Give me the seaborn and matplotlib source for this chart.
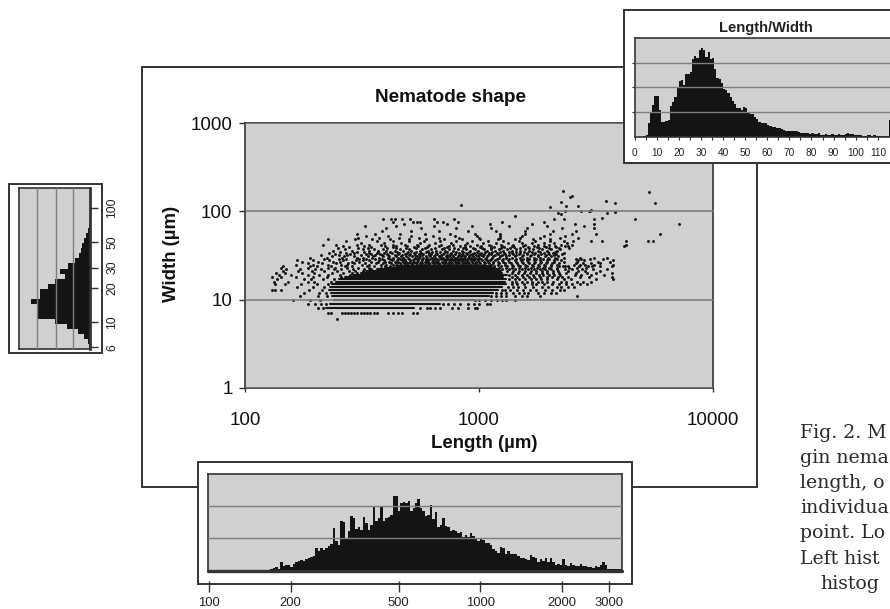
"""Nematode shape scatter with its three marginal histograms."""
import matplotlib
matplotlib.use("Agg")
import matplotlib.pyplot as plt
import numpy as np
import pandas as pd
import seaborn as sns
from matplotlib.patches import Rectangle

W, H = 890, 609
INK = "#141414"
EDGE = "#333333"
PANEL = "#d0d0d0"
GRID = "#7e7e7e"

# widths are recorded in whole microns, so the saturated part of the cloud reads as rows
BAND_WIDTHS = [8, 9, 10, 11, 12, 13, 14, 15, 16, 17, 18, 19, 20, 21, 22, 23, 24]
BAND_STARTS = [222, 231, 240, 235, 232, 228, 230, 236, 244, 252, 268, 290, 312, 330, 365, 395, 440]
BAND_ENDS = [530, 680, 950, 1100, 1150, 1200, 1250, 1300, 1290, 1310, 1270, 1320, 1260, 1240, 1210, 1170, 1120]

ROW_WIDTHS = [6, 7, 8, 9, 10, 11, 12, 13, 14, 15, 16, 17, 18, 19, 20, 21, 22, 23, 24, 25, 26, 27, 28, 29, 30,
              31, 32, 33, 34, 35, 36, 37, 38, 39, 40, 42, 44, 46, 48, 50, 53, 56, 60, 64, 68, 72, 76, 81]
ROW_LENGTHS = [
    [247],
    [226, 233, 260, 268, 276, 285, 293, 302, 312, 322, 332, 343, 355, 366, 408, 429, 450, 469, 522, 543],
    [205, 215, 560, 598, 620, 650, 680, 765, 810, 900, 960, 980],
    [185, 200, 212, 222, 700, 740, 780, 830, 900, 950, 1000, 1080, 1110],
    [160, 190, 210, 960, 1000, 1060, 1120, 1190, 1250, 1300, 1430],
    [172, 205, 225, 1130, 1180, 1240, 1300, 1420, 1520, 1610, 1830, 2620],
    [178, 207, 221, 1180, 1240, 1310, 1400, 1480, 1560, 1620, 1790, 1900, 2040, 2130],
    [131, 135, 142, 187, 213, 1250, 1290, 1360, 1450, 1540, 1650, 1760, 1920, 2050, 2220, 2310],
    [166, 195, 218, 1330, 1400, 1470, 1580, 1700, 1850, 1970, 2150, 2250, 2400, 2550],
    [135, 148, 173, 203, 226, 1380, 1450, 1550, 1680, 1760, 1900, 2050, 2200, 2350, 2500, 2700, 2900],
    [133, 152, 186, 198, 232, 1380, 1440, 1520, 1600, 1690, 1780, 1860, 1950, 2080, 2240, 2360, 2620, 2780, 3000],
    [137, 179, 192, 216, 240, 1340, 1420, 1480, 1570, 1660, 1750, 1840, 1960, 2150, 2300, 2480, 3150, 3720],
    [131, 143, 165, 196, 224, 258, 1380, 1460, 1540, 1630, 1720, 1820, 1950, 2060, 2180, 2260, 2400, 2700, 2950, 3710],
    [140, 158, 186, 207, 226, 254, 281, 1350, 1430, 1520, 1610, 1700, 1800, 1880, 2000, 2100, 2220, 2560, 2720, 3000, 3430],
    [136, 148, 176, 198, 236, 262, 287, 301, 1380, 1470, 1560, 1650, 1750, 1850, 1960, 2080, 2200, 2350, 2600, 2900, 3170, 3700],
    [145, 168, 194, 218, 247, 278, 294, 319, 1320, 1400, 1480, 1570, 1660, 1750, 1850, 1960, 2070, 2180, 2400, 2640, 2850, 3280],
    [150, 172, 200, 212, 240, 256, 290, 322, 347, 1260, 1340, 1430, 1520, 1620, 1720, 1820, 1920, 2040, 2160, 2320, 2500, 2760, 3060, 3540],
    [142, 186, 226, 243, 274, 305, 338, 381, 1220, 1300, 1390, 1480, 1570, 1670, 1770, 1880, 2000, 2150, 2420, 2620, 2860],
    [146, 190, 204, 234, 268, 288, 332, 356, 397, 418, 1160, 1240, 1320, 1400, 1500, 1600, 1700, 1800, 1920, 2040, 2200, 2280, 2340, 2400, 2680, 2920, 3050, 3300, 3700],
    [165, 196, 226, 256, 274, 316, 340, 381, 402, 431, 447, 462, 478, 493, 511, 524, 548, 566, 583, 604, 619, 641, 668, 683, 712, 734, 761, 782, 808, 839, 860, 893, 921, 958, 994, 1040, 1120, 1200, 1290, 1380, 1470, 1570, 1680, 1790, 1900, 2030, 2150, 2550, 2700, 2850, 3100, 3740],
    [186, 214, 244, 276, 292, 326, 362, 388, 421, 442, 458, 481, 499, 517, 536, 557, 572, 596, 611, 636, 652, 677, 701, 726, 748, 770, 797, 823, 851, 882, 908, 947, 973, 1012, 1058, 1101, 1152, 1220, 1290, 1370, 1450, 1540, 1630, 1720, 1830, 1940, 2060, 2190, 2600, 2780, 3000, 3300],
    [175, 206, 238, 254, 288, 306, 344, 371, 396, 413, 437, 451, 472, 488, 509, 528, 541, 563, 589, 607, 628, 644, 662, 695, 715, 742, 759, 788, 814, 842, 869, 901, 934, 968, 1004, 1047, 1093, 1146, 1200, 1270, 1350, 1440, 1530, 1620, 1730, 1840, 1960, 2090, 2310, 2620, 3220, 3640],
    [167, 196, 228, 262, 298, 318, 338, 374, 392, 424, 445, 467, 483, 505, 521, 547, 568, 591, 608, 633, 656, 671, 706, 722, 753, 777, 802, 829, 858, 886, 923, 951, 986, 1031, 1077, 1118, 1170, 1250, 1330, 1420, 1510, 1610, 1720, 1830, 1950, 2100, 2230, 2650, 2810, 3740],
    [218, 252, 270, 308, 328, 358, 384, 416, 431, 461, 478, 502, 526, 544, 571, 594, 615, 639, 664, 687, 711, 738, 766, 791, 818, 846, 875, 912, 941, 979, 1021, 1063, 1120, 1190, 1270, 1350, 1440, 1540, 1640, 1750, 1870, 2000, 2150, 2590, 2740, 2980, 3400],
    [190, 224, 260, 300, 320, 348, 372, 407, 429, 452, 474, 496, 533, 553, 578, 601, 628, 649, 681, 699, 732, 756, 787, 804, 837, 866, 897, 928, 966, 1004, 1070, 1140, 1220, 1300, 1390, 1490, 1600, 1710, 1830, 1970, 2120, 2300, 2700, 3100, 3540],
    [236, 264, 291, 336, 351, 389, 412, 441, 466, 488, 515, 542, 562, 591, 618, 642, 672, 691, 724, 745, 778, 812, 835, 871, 905, 947, 992, 1036, 1086, 1150, 1230, 1310, 1420, 1530, 1650, 1780, 1910, 2030, 2180],
    [212, 252, 272, 314, 360, 384, 410, 438, 468, 500, 534, 570, 610, 650, 690, 731, 769, 823, 858, 912, 968, 1020, 1090, 1170, 1250, 1340, 1440, 1540, 1660, 1790, 1930, 2090],
    [243, 282, 328, 346, 377, 403, 452, 481, 509, 552, 578, 626, 661, 703, 752, 786, 843, 889, 937, 998, 1054, 1122, 1207, 1295, 1402, 1487, 1596, 1710, 1846, 1987, 2130, 2260],
    [228, 270, 292, 340, 366, 394, 424, 456, 490, 526, 566, 610, 656, 706, 760, 820, 880, 950, 1020, 1100, 1190, 1280, 1380, 1490, 1610, 1740, 1900, 2080, 2300],
    [255, 302, 323, 371, 417, 447, 496, 538, 593, 631, 682, 729, 798, 851, 905, 979, 1065, 1142, 1233, 1338, 1446, 1562, 1688, 1826, 1972, 2120],
    [238, 286, 340, 370, 402, 436, 474, 514, 558, 606, 658, 714, 776, 842, 914, 992, 1080, 1170, 1270, 1380, 1500, 1630, 1780, 1960, 2150],
    [268, 319, 356, 389, 461, 503, 573, 622, 693, 747, 817, 876, 961, 1046, 1121, 1216, 1312, 1433, 1567, 1702, 1859, 2038, 2210],
    [250, 304, 334, 404, 444, 488, 536, 588, 646, 710, 780, 856, 940, 1030, 1130, 1240, 1360, 1490, 1640, 1800, 2000, 2200, 2420],
    [279, 347, 427, 529, 602, 733, 869, 1007, 1163, 1281, 1417, 1614, 1773, 1932, 2131],
    [262, 322, 398, 442, 492, 546, 606, 672, 746, 828, 918, 1020, 1130, 1250, 1390, 1540, 1710, 1900, 2110, 2340, 2400, 4160],
    [215, 244, 300, 338, 380, 428, 482, 542, 610, 686, 772, 870, 980, 1100, 1240, 1400, 1580, 1780, 2000, 2250, 2500, 4250],
    [312, 392, 463, 561, 649, 758, 892, 1036, 1178, 1326, 1522, 1691, 1888, 2093, 2388],
    [270, 368, 430, 500, 584, 682, 796, 930, 1090, 1270, 1480, 1730, 2020, 2300, 2520, 3000, 3350, 4230, 5300, 5560],
    [226, 295, 350, 418, 500, 596, 710, 846, 1010, 1200, 1430, 1700, 2020],
    [305, 372, 454, 554, 676, 824, 1004, 1226, 1495, 1820, 2220, 2650],
    [330, 410, 510, 636, 790, 985, 1225, 1525, 1900, 2340],
    [300, 360, 460, 590, 755, 965, 1235, 1580, 2020, 2500, 3150, 5950],
    [385, 510, 675, 895, 1185, 1570, 2080, 2600],
    [400, 565, 800, 1130, 1600, 2260, 3100],
    [325, 440, 640, 930, 1350, 1960, 2800],
    [480, 730, 1110, 1690, 2560, 3100, 7130],
    [430, 520, 545, 560, 660, 700, 810, 1260, 1900],
    [388, 420, 437, 467, 505, 640, 780, 2100, 2300, 3100, 4640],
]
# the sparse points above 85 um, read one by one
TOP_LENGTHS = [835, 1425, 2015, 2180, 2230, 2250, 2279, 2330, 2350, 2450, 2500, 2640, 2720, 2960, 2980, 3000, 3350, 3500, 3530, 3800, 3820, 5320, 5650]
TOP_WIDTHS = [117, 89, 113, 95, 93, 127, 172, 101, 114, 146, 150, 114, 101, 100, 101, 103, 84, 130, 97, 123, 98, 165, 123]

# length histogram (bottom), one value per bin
LENGTH_COUNTS = [0, 0, 0, 0, 0, 0, 0, 0, 0, 0, 0, 0, 0, 1, 1, 0, 1, 1, 1, 1, 1, 1, 0, 1, 1, 2, 3, 4, 2, 9, 5, 6, 6, 4, 7, 9,
                 10, 11, 10, 12, 13, 14, 15, 23, 20, 23, 21, 23, 25, 27, 43, 30, 26, 50, 49, 33, 40, 55, 53, 42, 44, 41,
                 54, 48, 41, 46, 64, 50, 53, 64, 50, 53, 54, 56, 75, 75, 60, 68, 69, 68, 70, 60, 63, 68, 72, 63, 60, 55,
                 56, 66, 52, 59, 44, 46, 53, 45, 44, 40, 41, 40, 38, 39, 34, 36, 34, 38, 35, 32, 30, 33, 31, 28, 28, 26,
                 22, 20, 18, 24, 23, 17, 20, 17, 17, 17, 15, 13, 13, 12, 11, 16, 14, 13, 9, 12, 10, 13, 9, 13, 9, 6, 7, 6,
                 12, 6, 5, 8, 6, 5, 5, 7, 5, 5, 4, 4, 3, 5, 4, 6, 9, 6, 2, 2, 2, 2, 2, 2]
LENGTH_TICKS = [100, 200, 500, 1000, 2000, 3000]

# length/width histogram (top right), one value per unit bin from 0 to 115
RATIO_COUNTS = [0, 0, 0, 0, 1, 2, 14, 24, 32, 41, 41, 27, 15, 15, 16, 17, 31, 35, 40, 50, 56, 57, 52, 63, 63, 65, 78, 81,
                79, 87, 89, 87, 80, 85, 78, 79, 68, 59, 58, 54, 48, 47, 44, 40, 36, 33, 29, 29, 27, 30, 29, 24, 23, 23,
                20, 18, 15, 14, 14, 14, 12, 11, 10, 10, 9, 9, 8, 7, 6, 6, 6, 6, 6, 6, 5, 4, 4, 4, 4, 3, 4, 3, 3, 4, 2, 2,
                3, 2, 2, 3, 2, 2, 3, 2, 2, 3, 4, 3, 3, 2, 2, 2, 2, 1, 1, 2, 2, 1, 2, 1, 1, 1, 1, 1, 1, 17]
RATIO_TICKS = [0, 10, 20, 30, 40, 50, 60, 70, 80, 90, 100, 110]

# width histogram (left), bins from the narrow end upwards
WIDTH_COUNTS = [1, 2, 6, 12, 23, 35, 53, 53, 53, 59, 50, 50, 42, 35, 25, 30, 22, 15, 11, 9, 8, 6, 4, 2, 1, 0, 0, 0, 0, 0, 0, 0]
WIDTH_TICKS = [6, 10, 20, 30, 50, 100]

CAPTION = ["Fig. 2. M", "gin nema", "length, o", "individua", "point. Lo", "Left hist", "histog"]


def px_axes(fig, x0, y0, x1, y1, zorder):
    ax = fig.add_axes([x0 / W, 1 - y1 / H, (x1 - x0) / W, (y1 - y0) / H], zorder=zorder)
    ax.set_facecolor(PANEL)
    for spine in ax.spines.values():
        spine.set_color(EDGE)
        spine.set_linewidth(1.2)
    return ax


def px_frame(fig, x0, y0, x1, y1, zorder):
    fig.add_artist(Rectangle((x0 / W, 1 - y1 / H), (x1 - x0) / W, (y1 - y0) / H, transform=fig.transFigure,
                             facecolor="white", edgecolor=EDGE, linewidth=1.4, zorder=zorder))


def px_text(fig, x, y, text, **kwargs):
    fig.text(x / W, 1 - y / H, text, **kwargs)


def log_bins(counts, low, high):
    edges = np.geomspace(low, high, len(counts) + 1)
    centers = np.sqrt(edges[:-1] * edges[1:])
    return centers, (np.log10(low), np.log10(high))


def draw_main(fig):
    ax = px_axes(fig, 245, 123, 713, 388, 1)
    ax.set_xscale("log")
    ax.set_yscale("log")
    bands = pd.DataFrame({
        "length": BAND_STARTS + BAND_ENDS,
        "width": BAND_WIDTHS + BAND_WIDTHS,
        "row": list(range(len(BAND_WIDTHS))) * 2,
    })
    sns.lineplot(data=bands, x="length", y="width", units="row", estimator=None, color=INK, linewidth=1.5, ax=ax, legend=False)
    lengths = [v for row in ROW_LENGTHS for v in row] + TOP_LENGTHS
    widths = [w for w, row in zip(ROW_WIDTHS, ROW_LENGTHS) for _ in row] + TOP_WIDTHS
    sns.scatterplot(x=lengths, y=widths, color=INK, s=4.5, linewidth=0, ax=ax, legend=False)
    ax.set_xlim(100, 10000)
    ax.set_ylim(1, 1000)
    ax.set_xticks([100, 1000, 10000], ["100", "1000", "10000"])
    ax.set_yticks([1, 10, 100, 1000], ["1", "10", "100", "1000"])
    ax.minorticks_off()
    ax.tick_params(axis="x", bottom=True, length=3, width=1, color=EDGE, pad=14, labelsize=13.5, labelcolor="#111111")
    ax.tick_params(axis="y", left=True, length=4, width=1, color=EDGE, pad=5, labelsize=13.5, labelcolor="#111111")
    ax.set_axisbelow(False)
    ax.yaxis.grid(True, color=GRID, linewidth=1.2)
    ax.xaxis.grid(False)
    ax.set_xlabel("")
    ax.set_ylabel("")


def draw_bottom(fig):
    ax = px_axes(fig, 208, 474, 622, 571, 3)
    centers, binrange = log_bins(LENGTH_COUNTS, 99, 3340)
    sns.histplot(x=centers, weights=LENGTH_COUNTS, bins=len(LENGTH_COUNTS), binrange=binrange, log_scale=True,
                 element="step", color=INK, alpha=1, linewidth=0, ax=ax)
    ax.set_xlim(99, 3340)
    ax.set_ylim(0, 97)
    ax.axhline(0, color=EDGE, linewidth=2.4, clip_on=False, zorder=4)
    ax.spines["bottom"].set_position(("outward", 7.2))
    ax.spines["bottom"].set_visible(False)
    ax.set_xticks(LENGTH_TICKS, [str(v) for v in LENGTH_TICKS])
    ax.minorticks_off()
    ax.set_yticks([33, 65], ["", ""])
    ax.tick_params(axis="x", bottom=True, length=8, width=1, color=EDGE, pad=3.5, labelsize=9.4, labelcolor="#222222")
    ax.tick_params(axis="y", length=0)
    ax.yaxis.grid(True, color=GRID, linewidth=1)
    ax.xaxis.grid(False)
    ax.set_axisbelow(False)
    ax.set_xlabel("")
    ax.set_ylabel("")


def draw_left(fig):
    ax = px_axes(fig, 19, 188, 90, 349, 3)
    centers, binrange = log_bins(WIDTH_COUNTS, 5.8, 150)
    sns.histplot(y=centers, weights=WIDTH_COUNTS, bins=len(WIDTH_COUNTS), binrange=binrange, log_scale=True,
                 element="step", color=INK, alpha=1, linewidth=0, ax=ax)
    ax.set_xlim(71, 0)
    ax.set_ylim(5.8, 150)
    ax.yaxis.tick_right()
    ax.set_yticks(WIDTH_TICKS, [str(v) for v in WIDTH_TICKS])
    ax.minorticks_off()
    ax.set_xticks([17, 34, 53], ["", "", ""])
    ax.tick_params(axis="y", which="both", right=True, length=5.8, width=1, color=EDGE, pad=6, labelsize=8.7,
                   labelrotation=90, labelcolor="#222222")
    for label in ax.get_yticklabels():
        label.set_va("center")
    ax.tick_params(axis="x", length=0)
    ax.xaxis.grid(True, color=GRID, linewidth=1)
    ax.yaxis.grid(False)
    ax.set_axisbelow(False)
    ax.spines["right"].set_linewidth(2)
    ax.set_xlabel("")
    ax.set_ylabel("")


def draw_top(fig):
    ax = px_axes(fig, 634.5, 38, 890, 137, 5)
    n_bins = len(RATIO_COUNTS)
    sns.histplot(x=np.arange(n_bins) + 0.5, weights=RATIO_COUNTS, bins=n_bins, binrange=(0, n_bins),
                 element="step", color=INK, alpha=1, linewidth=0, ax=ax)
    ax.set_xlim(0, 115.5)
    ax.set_ylim(0, 99)
    ax.spines["right"].set_visible(False)
    ax.set_xticks(RATIO_TICKS, [str(v) for v in RATIO_TICKS])
    ax.set_xticks(np.arange(5, 115, 10), minor=True)
    ax.set_yticks([25, 50, 74], ["", "", ""])
    ax.tick_params(axis="x", which="both", bottom=True, length=2.2, width=0.8, color=EDGE, pad=6, labelsize=7.3, labelcolor="#222222")
    ax.tick_params(axis="y", left=True, length=2, width=0.8, color=EDGE)
    ax.yaxis.grid(True, color=GRID, linewidth=1)
    ax.xaxis.grid(False)
    ax.set_axisbelow(False)
    ax.set_xlabel("")
    ax.set_ylabel("")


def main():
    sns.set_theme(style="white")
    plt.rcParams["font.family"] = ["Liberation Sans", "DejaVu Sans"]
    fig = plt.figure(figsize=(W / 100, H / 100), dpi=100, facecolor="white")

    px_frame(fig, 142, 67, 757, 487, -1)
    draw_main(fig)
    px_frame(fig, 198, 462, 632, 584, 2)
    draw_bottom(fig)
    px_frame(fig, 9, 184, 102, 353, 2)
    draw_left(fig)
    px_frame(fig, 624, 10, 900, 163, 4)
    draw_top(fig)

    px_text(fig, 450.5, 97, "Nematode shape", ha="center", va="center", fontsize=13.6, weight="bold", color="#111111", zorder=6)
    px_text(fig, 484.5, 443, "Length (µm)", ha="center", va="center", fontsize=13.4, weight="bold", color="#111111", zorder=6)
    px_text(fig, 172, 254, "Width (µm)", ha="center", va="center", rotation=90, fontsize=13.4, weight="bold", color="#111111", zorder=6)
    px_text(fig, 765.5, 28, "Length/Width", ha="center", va="center", fontsize=10.6, weight="bold", color="#222222", zorder=6)

    indent = [800, 800, 800, 800, 800, 800, 820]
    for i, line in enumerate(CAPTION):
        px_text(fig, indent[i], 437.5 + 25.2 * i, line, ha="left", va="baseline", fontsize=13.6,
                family="DejaVu Serif", color="#2a2a2a", zorder=6)

    fig.savefig("out.png", dpi=100, facecolor="white")
    plt.close(fig)


if __name__ == "__main__":
    main()
